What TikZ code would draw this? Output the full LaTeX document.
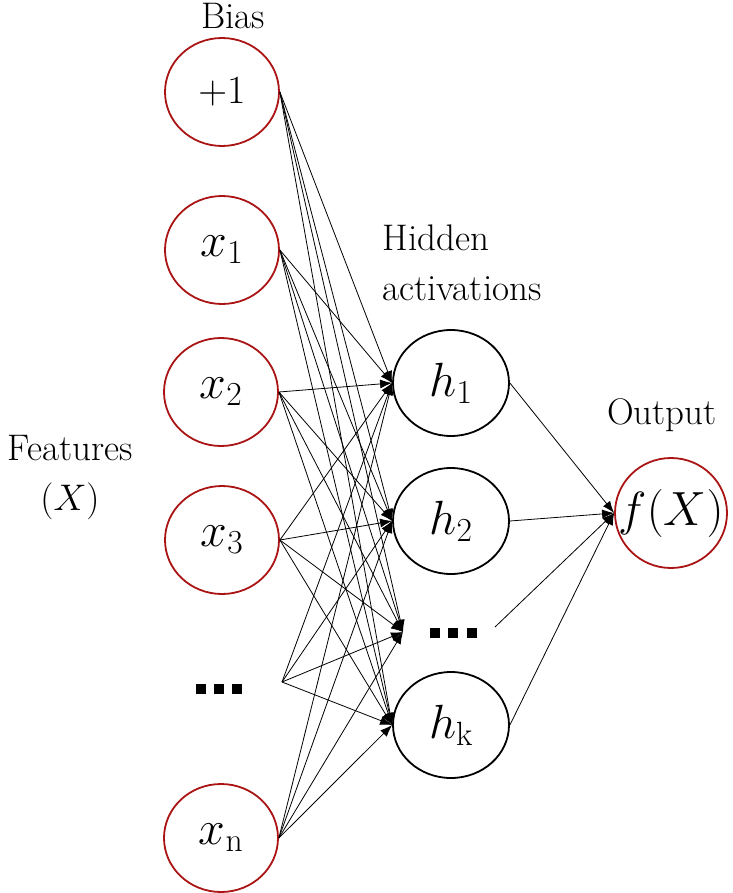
\RequirePackage{fix-cm}
\documentclass[tikz,border=0pt]{standalone}
\usetikzlibrary{shapes.geometric,arrows.meta}
\definecolor{nred}{RGB}{170,20,20}
\newcommand{\zb}[1]{\makebox[0pt]{#1}}
\begin{document}
\begin{tikzpicture}[x=1pt,y=-1pt,
 inp/.style={ellipse,draw=nred,line width=1.8pt,minimum width=114pt,minimum height=108pt,inner sep=0pt},
 hid/.style={ellipse,draw=black,line width=1.8pt,minimum width=116pt,minimum height=106pt,inner sep=0pt},
 outp/.style={ellipse,draw=nred,line width=1.8pt,minimum width=112pt,minimum height=110pt,inner sep=0pt},
 mth/.style={font=\fontsize{48}{58}\selectfont},
 lbl/.style={font=\fontsize{37}{50}\selectfont},
 edge/.style={line width=0.8pt,-{Latex[length=12pt,width=9pt]}},
 sq/.style={fill=black,minimum size=9.5pt,inner sep=0pt}
]
\useasboundingbox (0,0) rectangle (732,893);
% input layer
\node[inp,font=\fontsize{40}{48}\selectfont] (b) at (222,92) {\zb{$+1$}};
\node[inp,mth] (x1) at (222,250) {\zb{$x_1$}};
\node[inp,mth] (x2) at (221,392) {\zb{$x_2$}};
\node[inp,mth] (x3) at (222,540) {\zb{$x_3$}};
\node[inp,mth] (xn) at (221,838) {\zb{$x_\mathrm{n}$}};
\node[sq] (d1) at (201,689) {};
\node[sq] (d2) at (219,689) {};
\node[sq] (d3) at (237,689) {};
\coordinate (dinR) at (282,682);
% hidden layer
\node[hid,mth] (h1) at (451,383) {\zb{$h_1$}};
\node[hid,mth] (h2) at (451,521) {\zb{$h_2$}};
\node[hid,mth] (hk) at (451,725) {\zb{$h_\mathrm{k}$}};
\node[sq] (e1) at (435,633) {};
\node[sq] (e2) at (453,633) {};
\node[sq] (e3) at (472,633) {};
\coordinate (hdL) at (403,632);
\coordinate (hdR) at (495,627);
% output
\node[outp,mth] (out) at (671,513) {\zb{$f(X)$}};
% labels
\node[lbl] (lb) at (233,16) {Bias};
\node[lbl,align=left,anchor=west] (lh) at (379,263) {Hidden\\activations};
\node[lbl] (lo) at (662,415) {Output};
\node[lbl,align=center] (lf) at (70,478) {Features\\$(X)$};
% edges input -> hidden
\foreach \s in {b,x1,x2,x3,xn}{
  \foreach \t in {h1,h2,hk}{
    \draw[edge] (\s.east) -- (\t.west);
  }
  \draw[edge] (\s.east) -- (hdL);
}
\foreach \t in {h1,h2,hk}{
  \draw[edge] (dinR) -- (\t.west);
}
\draw[edge] (dinR) -- (hdL);
% hidden -> output
\foreach \s in {h1,h2,hk}{
  \draw[edge] (\s.east) -- (out.west);
}
\draw[edge] (hdR) -- (out.west);
\end{tikzpicture}
\end{document}
